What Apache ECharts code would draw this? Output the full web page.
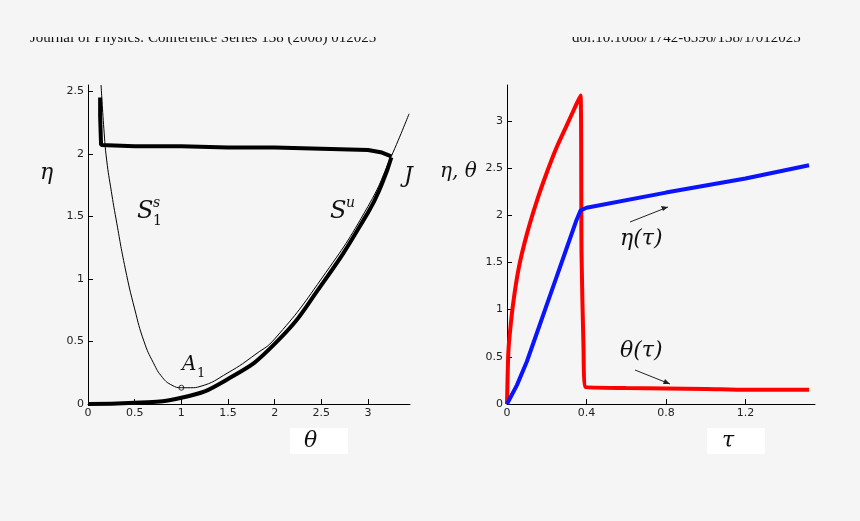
<!DOCTYPE html>
<html><head><meta charset="utf-8">
<script src="https://cdn.jsdelivr.net/npm/echarts@6/dist/echarts.min.js"></script>
<style>html,body{margin:0;padding:0;background:#f5f5f5}#c{width:860px;height:521px}</style>
</head><body><div id="c"></div>
<script>
const stableCurve=[[0.14,2.55],[0.17,2.2],[0.2,1.95],[0.25,1.7],[0.3,1.48],[0.4,1.08],[0.5,0.76],[0.6,0.5],[0.7,0.33],[0.8,0.21],[0.9,0.15],[1.0,0.13],[1.1,0.13],[1.2,0.14],[1.5,0.25],[1.8,0.4],[2.0,0.52],[2.5,1.0],[3.0,1.58],[3.25,1.98],[3.44,2.32]];
const unstableCurve=[[0,0.0],[0.5,0.01],[1.0,0.05],[1.5,0.2],[2.0,0.48],[2.5,0.95],[3.0,1.53],[3.15,1.76],[3.25,1.97]];
const topBranch=[[0.13,2.45],[0.13,2.3],[0.14,2.07],[0.5,2.06],[1.0,2.06],[1.5,2.05],[2.0,2.05],[2.5,2.04],[3.0,2.03],[3.15,2.01],[3.25,1.98]];
const pointA1=[[1.0,0.13]];
const thetaTau=[[0,0],[0.005,0.45],[0.01,0.65],[0.03,1.05],[0.06,1.45],[0.1,1.8],[0.15,2.15],[0.2,2.45],[0.25,2.72],[0.3,2.95],[0.35,3.18],[0.37,3.27],[0.375,1.6],[0.385,0.6],[0.395,0.18],[0.6,0.17],[1.0,0.16],[1.2,0.15],[1.52,0.15]];
const etaTau=[[0,0],[0.05,0.2],[0.1,0.45],[0.15,0.75],[0.2,1.05],[0.25,1.35],[0.3,1.65],[0.35,1.95],[0.37,2.05],[0.4,2.08],[0.8,2.24],[1.2,2.39],[1.52,2.53]];
const ch=echarts.init(document.getElementById('c'));
const lab={color:'#222',fontSize:11,fontFamily:'DejaVu Sans'};
const serif={fontFamily:'DejaVu Serif',fontStyle:'italic',fill:'#111'};
function ax(max,iv){return {type:'value',min:0,max:max,interval:iv,axisLine:{show:true,lineStyle:{color:'#000'}},axisTick:{show:true,inside:true},splitLine:{show:false},axisLabel:Object.assign({showMaxLabel:false,margin:4},lab)};}
ch.setOption({
 backgroundColor:'#f5f5f5',animation:false,
 grid:[{left:88,right:450,top:85,bottom:117},{left:507,right:45,top:85,bottom:117}],
 xAxis:[Object.assign({gridIndex:0},ax(3.45,0.5)),Object.assign({gridIndex:1},ax(1.55,0.4))],
 yAxis:[Object.assign({gridIndex:0},ax(2.55,0.5)),Object.assign({gridIndex:1},ax(3.38,0.5))],
 series:[
  {type:'line',xAxisIndex:0,yAxisIndex:0,data:stableCurve,smooth:true,showSymbol:false,lineStyle:{color:'#000',width:1}},
  {type:'line',xAxisIndex:0,yAxisIndex:0,data:unstableCurve,smooth:true,showSymbol:false,lineStyle:{color:'#000',width:4}},
  {type:'line',xAxisIndex:0,yAxisIndex:0,data:topBranch,showSymbol:false,lineStyle:{color:'#000',width:4}},
  {type:'scatter',xAxisIndex:0,yAxisIndex:0,data:pointA1,symbolSize:5,itemStyle:{color:'#fff',borderColor:'#000',borderWidth:1}},
  {type:'line',xAxisIndex:1,yAxisIndex:1,data:thetaTau,smooth:0.2,showSymbol:false,lineStyle:{color:'#f00',width:4}},
  {type:'line',xAxisIndex:1,yAxisIndex:1,data:etaTau,showSymbol:false,lineStyle:{color:'#0a14ff',width:4}}
 ],
 graphic:[
  {type:'text',left:30,top:31,style:{text:'Journal of Physics: Conference Series 138 (2008) 012025',fontSize:15,fontFamily:'Liberation Serif',fill:'#111'}},
  {type:'text',left:572,top:31,style:{text:'doi:10.1088/1742-6596/138/1/012025',fontSize:15,fontFamily:'Liberation Serif',fill:'#111'}},
  {type:'rect',shape:{x:0,y:0,width:860,height:37},style:{fill:'#f5f5f5'}},
  {type:'text',left:40,top:162,style:Object.assign({text:'η',fontSize:22},serif)},
  {type:'text',left:404,top:165,style:Object.assign({text:'J',fontSize:22},serif)},
  {type:'text',left:137,top:200,style:Object.assign({text:'S',fontSize:24},serif)},
  {type:'text',left:153,top:196,style:Object.assign({text:'s',fontSize:14},serif)},
  {type:'text',left:153,top:214,style:{text:'1',fontSize:14,fontFamily:'DejaVu Serif',fill:'#111'}},
  {type:'text',left:330,top:200,style:Object.assign({text:'S',fontSize:24},serif)},
  {type:'text',left:346,top:196,style:Object.assign({text:'u',fontSize:14},serif)},
  {type:'text',left:182,top:355,style:Object.assign({text:'A',fontSize:20},serif)},
  {type:'text',left:197,top:367,style:{text:'1',fontSize:13,fontFamily:'DejaVu Serif',fill:'#111'}},
  {type:'rect',shape:{x:290,y:428,width:58,height:26},style:{fill:'#fff'}},
  {type:'text',left:304,top:430,style:Object.assign({text:'θ',fontSize:22},serif)},
  {type:'text',left:440,top:162,style:Object.assign({text:'η, θ',fontSize:20},serif)},
  {type:'text',left:620,top:228,style:Object.assign({text:'η(τ)',fontSize:22},serif)},
  {type:'text',left:620,top:340,style:Object.assign({text:'θ(τ)',fontSize:22},serif)},
  {type:'line',shape:{x1:630,y1:222,x2:668,y2:207},style:{stroke:'#222',lineWidth:1}},
  {type:'polygon',shape:{points:[[668,207],[661,206],[663,211]]},style:{fill:'#222'}},
  {type:'line',shape:{x1:635,y1:370,x2:670,y2:384},style:{stroke:'#222',lineWidth:1}},
  {type:'polygon',shape:{points:[[670,384],[663,384],[665,379]]},style:{fill:'#222'}},
  {type:'rect',shape:{x:707,y:428,width:58,height:26},style:{fill:'#fff'}},
  {type:'text',left:722,top:430,style:Object.assign({text:'τ',fontSize:22},serif)}
 ]
});
</script></body></html>
